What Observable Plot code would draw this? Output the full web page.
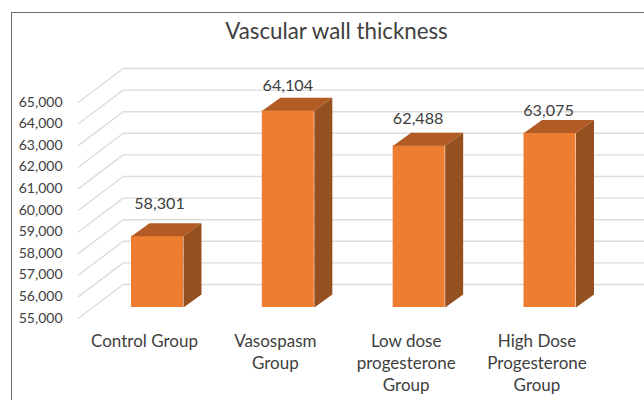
<!DOCTYPE html>
<html>
<head>
<meta charset="utf-8">
<script src="https://cdn.jsdelivr.net/npm/d3@7"></script>
<script src="https://cdn.jsdelivr.net/npm/@observablehq/plot@0.6"></script>
<style>
  html, body { margin: 0; padding: 0; background: #fff; }
  #wrap { position: relative; width: 644px; height: 400px; overflow: hidden; font-family: Lato, sans-serif; }
  #frame { position: absolute; left: 10.5px; top: 11.5px; width: 700px; height: 500px; border: 1.5px solid #6a6a6a; box-sizing: border-box; }
  #title { position: absolute; left: 0; top: 17px; width: 673px; text-align: center; font-size: 22.3px; line-height: 28px; color: #404040; }
  #chart { position: absolute; left: 0; top: 50px; }
  #chart svg { display: block; }
</style>
</head>
<body>
<div id="wrap">
  <div id="frame"></div>
  <div id="title">Vascular wall thickness</div>
  <div id="chart"></div>
</div>
<script>
const groups = ["Control Group", "Vasospasm\nGroup", "Low dose\nprogesterone\nGroup", "High Dose\nProgesterone\nGroup"];
const thickness = [58301, 64104, 62488, 63075];
const yTicks = [55000, 56000, 57000, 58000, 59000, 60000, 61000, 62000, 63000, 64000, 65000];

const TOP = 50;
const Y_RANGE = [317.7 - TOP, 101.7 - TOP];
const X_RANGE = [157, 549.5];
const unitsPerPxX = 3 / (X_RANGE[1] - X_RANGE[0]);
const unitsPerPxY = 10000 / (Y_RANGE[0] - Y_RANGE[1]);
const pxX = (dx) => dx * unitsPerPxX;
const pxY = (dy) => dy * unitsPerPxY;

const valueLift = [32, 25.5, 27, 22];
const halfBar = pxX(26), depthX = pxX(18), depthY = pxY(13);
const base = yTicks[0] + pxY(10.7);
const bottom = yTicks[0];

const gridLeft = pxX(78 - X_RANGE[0]);
const gridBack = pxX(122.7 - X_RANGE[0]);
const gridRight = pxX(660 - X_RANGE[0]);
const gridRise = pxY(33.7);

const gridPts = yTicks.flatMap((t) => [
  {t, x: gridLeft, y: t},
  {t, x: gridBack, y: t + gridRise},
  {t, x: gridRight, y: t + gridRise}
]);

const front = thickness.map((v, i) => ({i, x1: i - halfBar, x2: i + halfBar, y1: base, y2: v + pxY(10.7)}));
const topFace = thickness.flatMap((v, i) => {
  const y = v + pxY(10.7);
  return [
    {i, x: i - halfBar, y},
    {i, x: i + halfBar, y},
    {i, x: i + halfBar + depthX, y: y + depthY},
    {i, x: i - halfBar + depthX, y: y + depthY}
  ];
});
const sideFace = thickness.flatMap((v, i) => {
  const y = v + pxY(10.7);
  return [
    {i, x: i + halfBar, y},
    {i, x: i + halfBar + depthX, y: y + depthY},
    {i, x: i + halfBar + depthX, y: base + depthY},
    {i, x: i + halfBar, y: base}
  ];
});
const valueLabels = thickness.map((v, i) => ({
  i, v, y: v + pxY(10.7) + pxY(valueLift[i])
}));
const valueCenters = [2, -0.5, -1, -1.5];

const textColor = "#404040";
const chart = Plot.plot({
  width: 644,
  height: 400 - TOP,
  marginLeft: 68,
  marginRight: 0,
  marginTop: 0,
  marginBottom: 0,
  x: {type: "linear", domain: [0, 3], range: X_RANGE, axis: null},
  y: {type: "linear", domain: [yTicks[0], yTicks[yTicks.length - 1]], range: Y_RANGE, axis: null},
  style: {fontFamily: "Lato, sans-serif", background: "transparent", overflow: "hidden"},
  marks: [
    Plot.line(gridPts, {x: "x", y: "y", z: "t", stroke: "#dcdcdc", strokeWidth: 1.4}),
    Plot.axisY(yTicks, {
      anchor: "left", tickSize: 0, tickPadding: 6, fontSize: 14, fill: textColor,
      tickFormat: (d) => d3.format(",")(d), label: null
    }),
    Plot.rect(front, {x1: "x1", x2: "x2", y1: "y1", y2: "y2", fill: "#ED7D31"}),
    Plot.line(topFace, {x: "x", y: "y", z: "i", fill: "#B25B24", stroke: "none"}),
    Plot.line(sideFace, {x: "x", y: "y", z: "i", fill: "#95501F", stroke: "none"}),
    ...valueLabels.map((d) => Plot.text([d], {
      x: "i", y: "y", text: (e) => d3.format(",")(e.v), dx: valueCenters[d.i],
      fontSize: 16.2, fill: textColor
    })),
    Plot.text(groups.map((g, i) => ({g, i})), {
      x: "i", y: () => bottom, text: "g", dx: -13, dy: 13,
      lineAnchor: "top", lineHeight: 1.3, fontSize: 17, fill: textColor
    })
  ]
});
document.getElementById("chart").appendChild(chart);
</script>
</body>
</html>
